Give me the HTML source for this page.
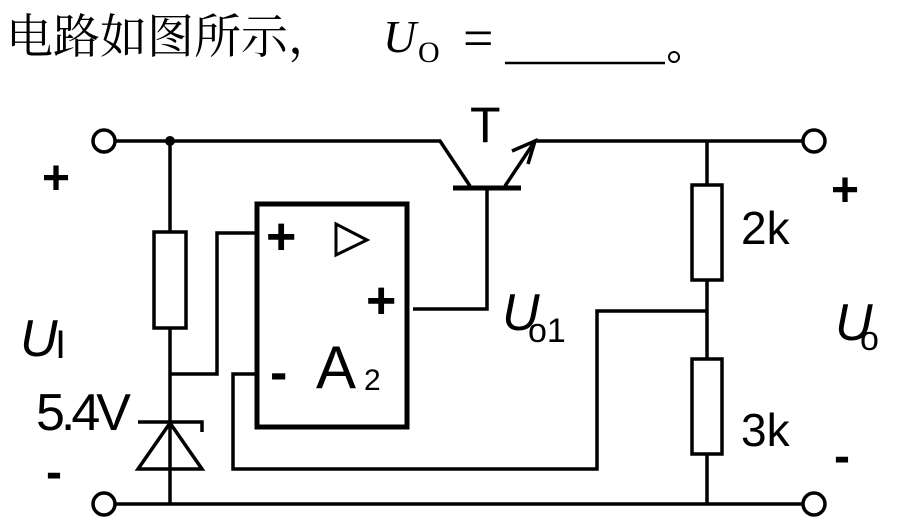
<!DOCTYPE html>
<html><head><meta charset="utf-8"><style>
html,body{margin:0;padding:0;background:#fff;}
svg{display:block}
</style></head><body>
<svg width="912" height="525" viewBox="0 0 912 525" xmlns="http://www.w3.org/2000/svg">
<text x="6" y="53" font-family="'Noto Serif CJK SC','Noto Sans CJK SC',serif" font-size="47">电路如图所示，</text>
<text x="383" y="52" font-family="'Liberation Serif',serif" font-style="italic" font-size="46">U</text>
<text x="418" y="62" font-family="'Liberation Serif',serif" font-size="30">O</text>
<text x="463" y="56" font-family="'Liberation Serif',serif" font-size="54">=</text>
<line x1="505" y1="63" x2="665" y2="63" stroke="#000" stroke-width="2.5"/>
<circle cx="674" cy="57" r="5" fill="none" stroke="#000" stroke-width="2"/>
<g stroke="#000" stroke-width="3.5" fill="none">
<circle cx="104" cy="141" r="11" fill="#fff"/>
<circle cx="104" cy="504" r="11" fill="#fff"/>
<circle cx="814" cy="141" r="11" fill="#fff"/>
<circle cx="814" cy="504" r="11" fill="#fff"/>
<polyline points="115,141 440,141 470,186"/>
<polyline points="505,186 535,141 803,141"/>
<line x1="115" y1="504" x2="803" y2="504"/>
<line x1="170" y1="141" x2="170" y2="504"/>
<rect x="154" y="232" width="32" height="96" fill="#fff"/>
<polyline points="170,374 217,374 217,233 256,233"/>
<polyline points="413,309 487,309 487,188"/>
<line x1="453" y1="188" x2="521" y2="188" stroke-width="5"/>
<polyline points="512,151 535,141 528,164"/>
<line x1="707" y1="141" x2="707" y2="504"/>
<rect x="692" y="185" width="30" height="95" fill="#fff"/>
<rect x="692" y="359" width="30" height="95" fill="#fff"/>
<polyline points="707,311 597,311 597,469 233,469 233,374 256,374"/>
<polyline points="138,422 202,422 202,432"/>
<polygon points="170,423 138,469 202,469"/>
<rect x="257" y="204" width="150" height="223" stroke-width="5"/>
<polygon points="336,224 367,240 336,255" stroke-width="3"/>
</g>
<circle cx="170" cy="141" r="5" fill="#000"/>
<g font-family="'Liberation Sans',sans-serif" fill="#000">
<text x="266" y="254" font-size="52" font-weight="bold">+</text>
<text x="366" y="318" font-size="52" font-weight="bold">+</text>
<text x="270" y="390" font-size="52" font-weight="bold">-</text>
<text x="316" y="388" font-size="60">A</text>
<text x="364" y="390" font-size="30">2</text>
<text x="470" y="142" font-size="50">T</text>
<text x="42" y="194" font-size="48" font-weight="bold">+</text>
<text x="46" y="488" font-size="48" font-weight="bold">-</text>
<text x="831" y="206" font-size="48" font-weight="bold">+</text>
<text x="834" y="472" font-size="48" font-weight="bold">-</text>
<text x="36" y="430" font-size="52" letter-spacing="-4">5.4V</text>
<text x="741" y="244" font-size="46">2k</text>
<text x="741" y="446" font-size="46">3k</text>
<text x="20" y="356" font-size="52" font-style="italic">U</text>
<text x="55" y="358" font-size="40">I</text>
<text x="502" y="330" font-size="52" font-style="italic">U</text>
<text x="528" y="342" font-size="34">o1</text>
<text x="835" y="340" font-size="52" font-style="italic">U</text>
<text x="860" y="350" font-size="34">o</text>
</g>
</svg>
</body></html>
